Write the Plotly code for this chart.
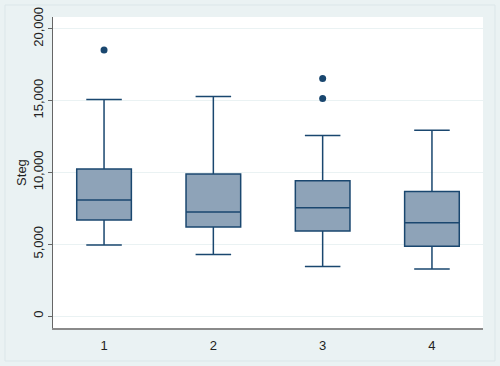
import plotly.graph_objects as go

groups = [1, 2, 3, 4]
lower_whisker = [4940, 4290, 3450, 3270]
q1_vals = [6680, 6190, 5920, 4850]
median_vals = [8070, 7240, 7540, 6490]
q3_vals = [10230, 9880, 9420, 8670]
upper_whisker = [15070, 15280, 12570, 12940]
outlier_x = [1, 3, 3]
outlier_y = [18530, 16540, 15150]
y_ticks = [0, 5000, 10000, 15000, 20000]
y_ticktext = ["0", "5,000", "10,000", "15,000", "20,000"]
x_ticktext = ["1", "2", "3", "4"]

navy = "#1a476f"
fig = go.Figure()
fig.add_trace(go.Box(
    x=groups, q1=q1_vals, median=median_vals, q3=q3_vals,
    lowerfence=lower_whisker, upperfence=upper_whisker,
    width=0.5, whiskerwidth=0.65,
    fillcolor="#8ea3b8", line=dict(color=navy, width=1.5),
    boxpoints=False, showlegend=False, hoverinfo="skip",
))
fig.add_trace(go.Scatter(
    x=outlier_x, y=outlier_y, mode="markers",
    marker=dict(color=navy, size=7), showlegend=False,
))

L, R, T, B = 53, 17, 17, 38
W, H = 500, 366
pw, ph = W - L - R, H - T - B
fig.add_shape(type="rect", xref="paper", yref="paper", layer="above",
              x0=(5 - L) / pw, x1=(495 - L) / pw,
              y0=-(361 - (H - B)) / ph, y1=1 + (T - 5) / ph,
              fillcolor="rgba(0,0,0,0)", line=dict(color="#dbe6e9", width=1))

fig.update_layout(
    width=W, height=H,
    margin=dict(l=L, r=R, t=T, b=B, autoexpand=False),
    paper_bgcolor="#eaf2f3", plot_bgcolor="white",
    font=dict(family="Liberation Sans, Arial", size=13, color="#222"),
    xaxis=dict(range=[0.533, 4.467], tickvals=groups, ticktext=x_ticktext,
               showgrid=False, zeroline=False, showline=True, automargin=False,
               linecolor="#8a8a8a", linewidth=1.5, ticks="", ticklabelstandoff=5),
    yaxis=dict(range=[-836, 20822], tickvals=y_ticks, ticktext=y_ticktext,
               tickangle=-90, ticks="outside", ticklen=4, tickcolor="#666",
               showgrid=True, gridcolor="#eaf2f3", gridwidth=1, zeroline=False,
               showline=True, linecolor="#666", linewidth=1, automargin=False,
               title=dict(text="Steg", standoff=1, font=dict(size=13))),
)
fig.write_html("out.html", config={"displayModeBar": False},
               post_script="document.body.style.margin='0';document.body.style.overflow='hidden';")
